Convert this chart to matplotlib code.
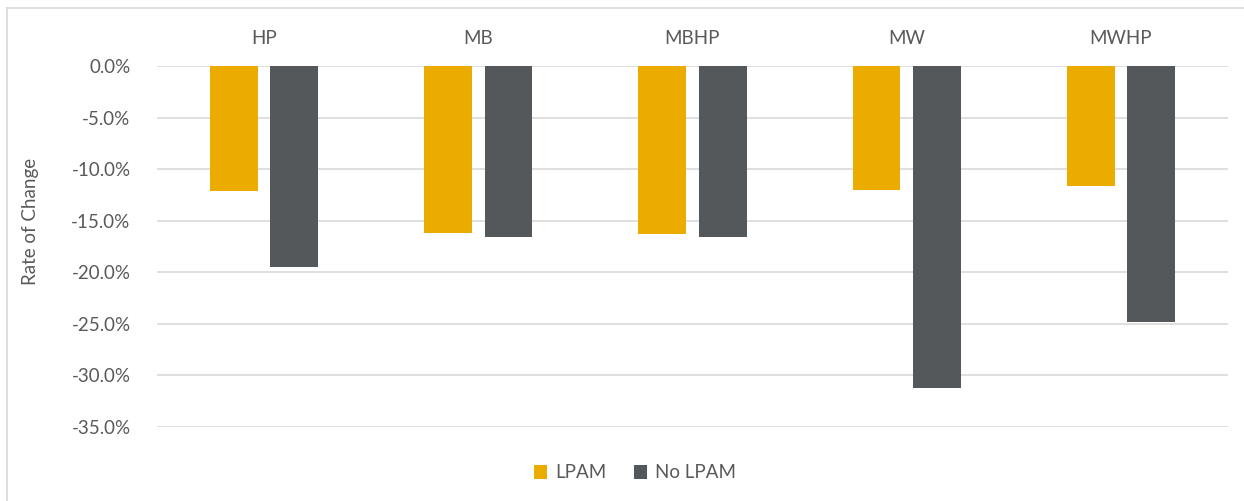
import matplotlib.pyplot as plt
import numpy as np
from matplotlib.ticker import FuncFormatter
from matplotlib.lines import Line2D

plt.rcParams['font.family'] = ['Lato', 'DejaVu Sans']

categories = ['HP', 'MB', 'MBHP', 'MW', 'MWHP']
lpam = [-12.1, -16.2, -16.3, -12.0, -11.6]
no_lpam = [-19.5, -16.6, -16.6, -31.2, -24.8]
y_ticks = [0, -5, -10, -15, -20, -25, -30, -35]

gold = '#EBAB00'
slate = '#54585A'
text_grey = '#595959'

fig = plt.figure(figsize=(12.44, 5.01), dpi=100)
ax = fig.add_axes([157 / 1244, 1 - 427 / 501, 1071 / 1244, 361 / 501])

x = np.arange(len(categories))
w = 0.224
ax.bar(x - 0.141, lpam, w, color=gold, label='LPAM', zorder=3)
ax.bar(x + 0.141, no_lpam, w, color=slate, label='No LPAM', zorder=3)

ax.set_xlim(-0.5, len(categories) - 0.5)
ax.set_ylim(-35, 0)
ax.set_yticks(y_ticks)
ax.yaxis.set_major_formatter(FuncFormatter(lambda v, p: f'{v:.1f}%'))
ax.grid(axis='y', color='#D9D9D9', linewidth=1.2, zorder=0)
for s in ax.spines.values():
    s.set_visible(False)

ax.xaxis.tick_top()
ax.set_xticks(x)
ax.set_xticklabels(categories)
ax.tick_params(axis='both', length=0, labelsize=13.5, labelcolor=text_grey)
ax.tick_params(axis='x', pad=14)
ax.tick_params(axis='y', pad=19)

ax.set_ylabel('Rate of Change', fontsize=13.5, color=text_grey)
ax.yaxis.set_label_coords(-0.11, 0.57)

ax.legend(loc='center', bbox_to_anchor=(635 / 1244, 1 - 473 / 501),
          bbox_transform=fig.transFigure, ncol=2, frameon=False,
          fontsize=13.5, labelcolor=text_grey, handlelength=0.7,
          handleheight=0.7, handletextpad=0.4, columnspacing=1.5)

# light frame edges (left and top) around the chart
fx, fy = 7 / 1244, 1 - 8 / 501
fig.lines.append(Line2D([fx, fx], [0, fy], transform=fig.transFigure,
                        color='#D9D9D9', linewidth=1.2))
fig.lines.append(Line2D([fx, 1], [fy, fy], transform=fig.transFigure,
                        color='#D9D9D9', linewidth=1.2))

fig.savefig('out.png', dpi=100)
